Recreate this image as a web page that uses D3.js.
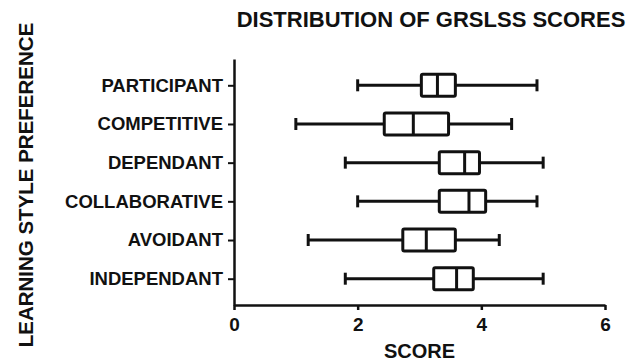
<!DOCTYPE html>
<meta charset="utf-8">
<script src="https://d3js.org/d3.v7.min.js"></script>
<style>
  body { margin: 0; background: #fff; }
  text { font-family: "Liberation Sans", Arial, sans-serif; font-weight: bold; fill: #111; }
</style>
<div id="chart"></div>
<script>
// data
var categories = ["PARTICIPANT", "COMPETITIVE", "DEPENDANT", "COLLABORATIVE", "AVOIDANT", "INDEPENDANT"];
var mins    = [2.00, 1.00, 1.80, 2.00, 1.20, 1.80];
var q1s     = [3.03, 2.43, 3.32, 3.32, 2.73, 3.23];
var medians = [3.29, 2.90, 3.73, 3.80, 3.11, 3.60];
var q3s     = [3.58, 3.47, 3.97, 4.07, 3.58, 3.87];
var maxs    = [4.90, 4.49, 5.00, 4.90, 4.29, 5.00];
var xTicks  = [0, 2, 4, 6];

var W = 642, H = 364;
var margin = {top: 59, right: 37, bottom: 59, left: 234};

var svg = d3.select("#chart").append("svg")
    .attr("width", W)
    .attr("height", H);

var x = d3.scaleLinear()
    .domain([0, 6])
    .range([margin.left, W - margin.right]);

var y = d3.scalePoint()
    .domain(categories)
    .range([margin.top, H - margin.bottom])
    .padding(0.68);

var data = categories.map(function(c, i) {
  return {cat: c, min: mins[i], q1: q1s[i], med: medians[i], q3: q3s[i], max: maxs[i]};
});

// x axis
var gx = svg.append("g")
    .attr("transform", "translate(0," + (H - margin.bottom) + ")")
    .call(d3.axisBottom(x).tickValues(xTicks).tickSize(5).tickSizeOuter(0).tickPadding(8).tickFormat(d3.format("d")));
gx.select(".domain").attr("stroke", "#111").attr("stroke-width", 2.5);
gx.selectAll(".tick line").attr("stroke", "#111").attr("stroke-width", 2.5);
gx.selectAll(".tick text").style("font-size", "19px").style("font-weight", "bold").attr("fill", "#111");

// y axis
var gy = svg.append("g")
    .attr("transform", "translate(" + margin.left + ",0)")
    .call(d3.axisLeft(y).tickSize(6).tickSizeOuter(0).tickPadding(5));
gy.select(".domain").attr("stroke", "#111").attr("stroke-width", 2.5);
gy.selectAll(".tick line").attr("stroke", "#111").attr("stroke-width", 2);
gy.selectAll(".tick text").style("font-size", "18.5px").style("font-weight", "bold").attr("fill", "#111");

// boxes
var boxH = 22, capH = 12;
var g = svg.append("g").selectAll("g")
    .data(data)
    .enter()
    .append("g");

g.append("line")
    .attr("x1", function(d) { return x(d.min); })
    .attr("x2", function(d) { return x(d.q1); })
    .attr("y1", function(d) { return y(d.cat); })
    .attr("y2", function(d) { return y(d.cat); });
g.append("line")
    .attr("x1", function(d) { return x(d.q3); })
    .attr("x2", function(d) { return x(d.max); })
    .attr("y1", function(d) { return y(d.cat); })
    .attr("y2", function(d) { return y(d.cat); });
g.append("line")
    .attr("x1", function(d) { return x(d.min); })
    .attr("x2", function(d) { return x(d.min); })
    .attr("y1", function(d) { return y(d.cat) - capH / 2; })
    .attr("y2", function(d) { return y(d.cat) + capH / 2; });
g.append("line")
    .attr("x1", function(d) { return x(d.max); })
    .attr("x2", function(d) { return x(d.max); })
    .attr("y1", function(d) { return y(d.cat) - capH / 2; })
    .attr("y2", function(d) { return y(d.cat) + capH / 2; });
g.append("rect")
    .attr("x", function(d) { return x(d.q1); })
    .attr("y", function(d) { return y(d.cat) - boxH / 2; })
    .attr("width", function(d) { return x(d.q3) - x(d.q1); })
    .attr("height", boxH)
    .attr("rx", 1.5)
    .attr("fill", "#fff");
g.append("line")
    .attr("x1", function(d) { return x(d.med); })
    .attr("x2", function(d) { return x(d.med); })
    .attr("y1", function(d) { return y(d.cat) - boxH / 2; })
    .attr("y2", function(d) { return y(d.cat) + boxH / 2; });
g.selectAll("line, rect")
    .attr("stroke", "#111")
    .attr("stroke-width", 3)
    .attr("stroke-linejoin", "round");

// title
svg.append("text")
    .attr("x", 431)
    .attr("y", 27)
    .attr("text-anchor", "middle")
    .style("font-size", "22px")
    .text("DISTRIBUTION OF GRSLSS SCORES");

// x label
svg.append("text")
    .attr("x", (x(0) + x(6)) / 2)
    .attr("y", 358)
    .attr("text-anchor", "middle")
    .style("font-size", "20px")
    .text("SCORE");

// y label
svg.append("text")
    .attr("transform", "translate(33," + 185 + ") rotate(-90)")
    .attr("text-anchor", "middle")
    .style("font-size", "20.5px")
    .text("LEARNING STYLE PREFERENCE");
</script>
